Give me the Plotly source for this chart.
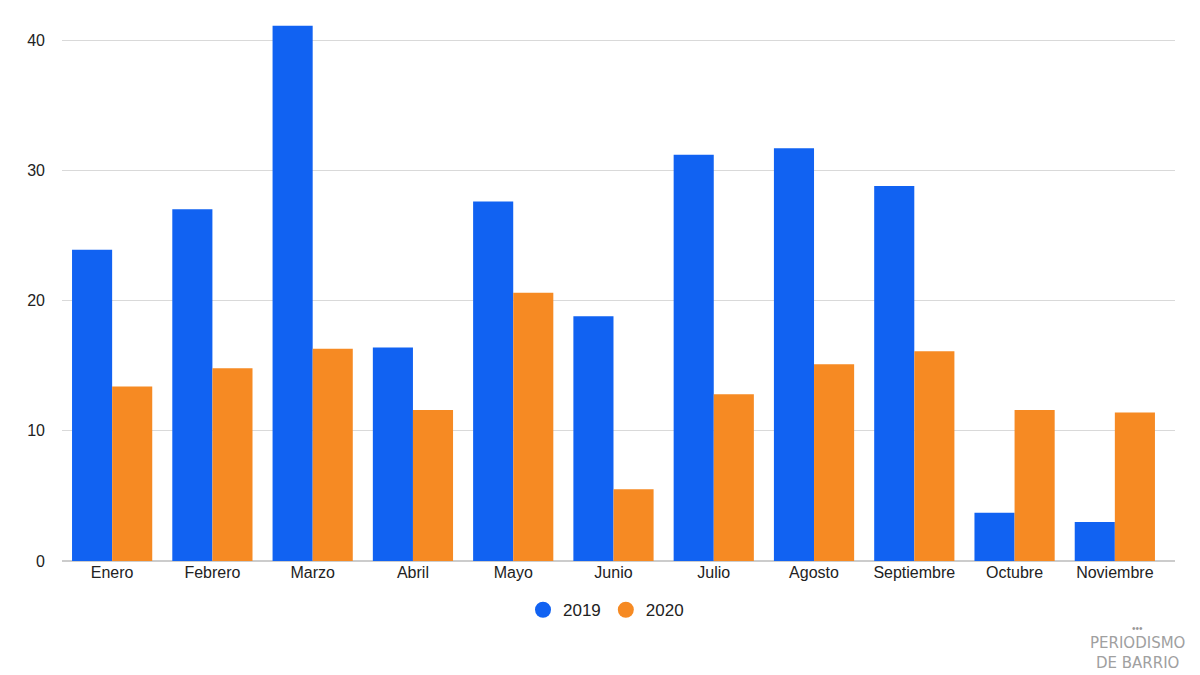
import plotly.graph_objects as go

meses = ["Enero", "Febrero", "Marzo", "Abril", "Mayo", "Junio", "Julio",
         "Agosto", "Septiembre", "Octubre", "Noviembre"]
v2019 = [23.9, 27.0, 41.1, 16.4, 27.6, 18.8, 31.2, 31.7, 28.8, 3.7, 3.0]
v2020 = [13.4, 14.8, 16.3, 11.6, 20.6, 5.5, 12.8, 15.1, 16.1, 11.6, 11.4]

c19 = "#1162F2"
c20 = "#F68A23"

fig = go.Figure()
fig.add_trace(go.Bar(x=meses, y=v2019, name="2019", marker_color=c19,
                     marker_line_width=0, showlegend=False))
fig.add_trace(go.Bar(x=meses, y=v2020, name="2020", marker_color=c20,
                     marker_line_width=0, showlegend=False))
# legend entries with circle markers
fig.add_trace(go.Scatter(x=[None], y=[None], mode="markers", name="2019",
                         marker=dict(symbol="circle", size=20, color=c19)))
fig.add_trace(go.Scatter(x=[None], y=[None], mode="markers", name="2020",
                         marker=dict(symbol="circle", size=20, color=c20)))

# page body has an 8px margin, so the figure is sized/offset to compensate
fig.update_layout(
    width=1192, height=667,
    margin=dict(l=54, r=25, t=6, b=114),
    paper_bgcolor="white", plot_bgcolor="white",
    barmode="group", bargap=0.2, bargroupgap=0,
    font=dict(family="Liberation Sans, Arial, sans-serif", size=16, color="#222"),
    legend=dict(orientation="h", x=(606 - 62) / 1113, xanchor="center",
                y=-0.09, yanchor="middle", font=dict(size=17)),
    xaxis=dict(showgrid=False, tickfont=dict(size=16), ticks="", showline=False,
               range=[-0.5, 10.6]),
    yaxis=dict(range=[0, 42], tickvals=[0, 10, 20, 30, 40], showgrid=True,
               gridcolor="#D9D9D9", gridwidth=1, zeroline=True,
               zerolinecolor="#CCCCCC", zerolinewidth=2,
               tickfont=dict(size=16), ticklabelstandoff=16),
)

logo_x = (1137 - 62) / 1113
fig.add_annotation(text="•••", xref="paper", yref="paper", x=logo_x,
                   y=(561 - 628) / 547, yanchor="middle", xanchor="center",
                   showarrow=False, font=dict(size=10, color="#999"))
fig.add_annotation(text="PERIODISMO<br>DE BARRIO", xref="paper", yref="paper",
                   x=logo_x, y=(561 - 653) / 547, yanchor="middle",
                   xanchor="center", align="center", showarrow=False,
                   font=dict(size=15, color="#a0a0a0",
                             family="DejaVu Sans, sans-serif"))

fig.write_html("out.html")
